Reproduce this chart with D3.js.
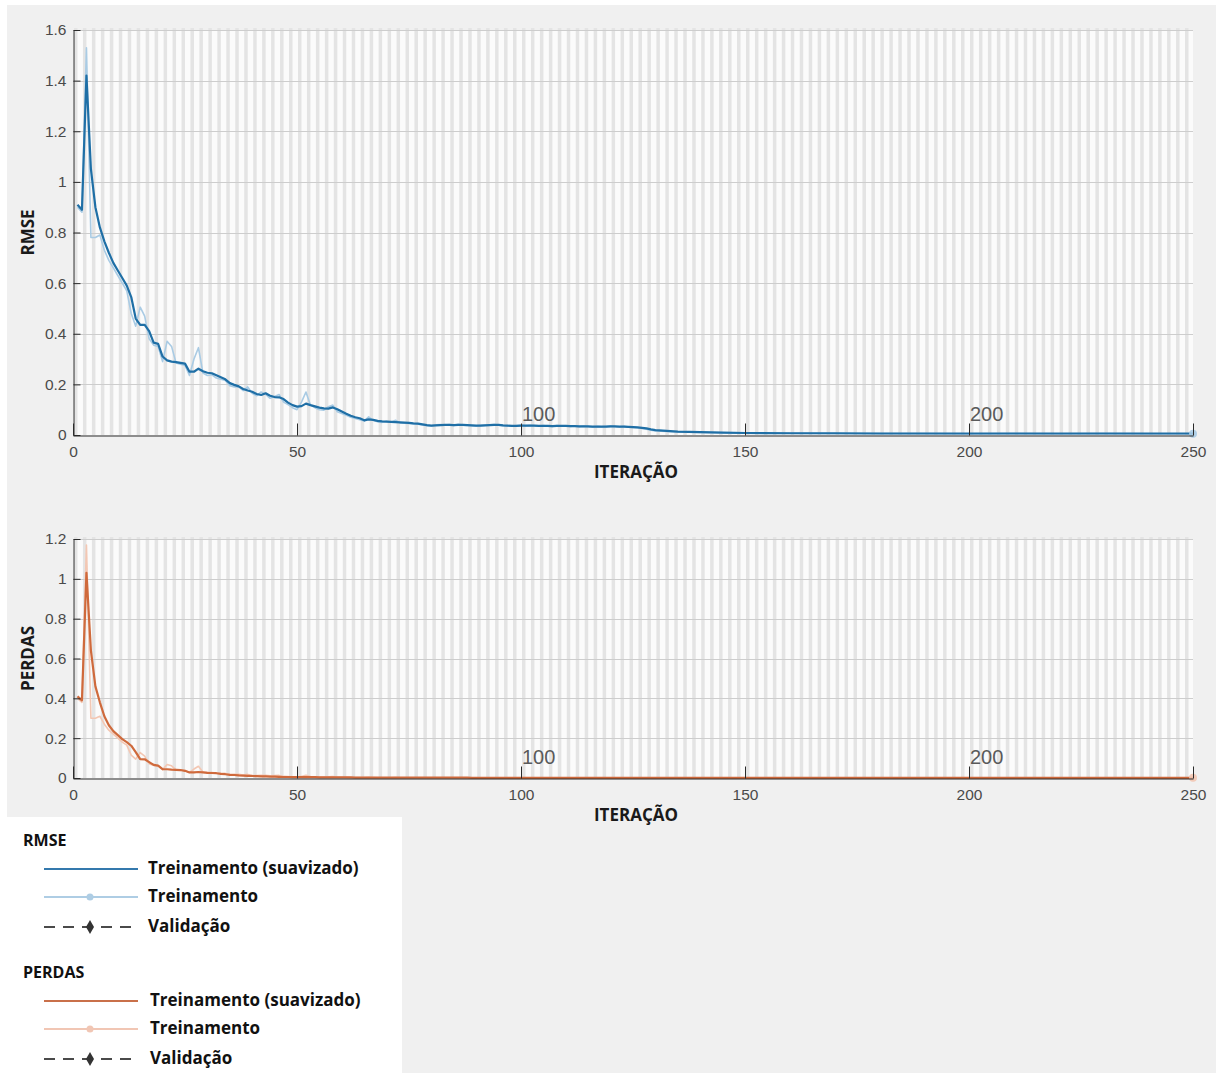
<!DOCTYPE html>
<html>
<head>
<meta charset="utf-8">
<script src="https://cdn.jsdelivr.net/npm/d3@7"></script>
<style>
  html, body { margin: 0; padding: 0; background: #ffffff; }
  svg { display: block; }
</style>
</head>
<body>
<script>
// ---- Training progress data --------------------------------------------
// Iterations 1..130 are logged one by one; afterwards the curve is flat and
// is logged at coarser steps.
const denseIterations = d3.range(1, 131);
const tailIterations = [135, 140, 145, 150, 160, 170, 180, 190, 200, 210, 220, 230, 240, 250];
const iterations = denseIterations.concat(tailIterations);

const rmseSmoothed = [
  0.91, 0.89, 1.42, 1.05, 0.90, 0.82, 0.765, 0.72, 0.68, 0.65,
  0.62, 0.59, 0.545, 0.46, 0.435, 0.435, 0.41, 0.365, 0.36, 0.31,
  0.295, 0.29, 0.288, 0.285, 0.282, 0.25, 0.25, 0.262, 0.252, 0.246,
  0.244, 0.236, 0.228, 0.22, 0.205, 0.198, 0.192, 0.182, 0.176, 0.171,
  0.162, 0.158, 0.165, 0.155, 0.150, 0.149, 0.142, 0.128, 0.118, 0.112,
  0.114, 0.124, 0.118, 0.113, 0.108, 0.105, 0.104, 0.109, 0.102, 0.093,
  0.084, 0.076, 0.070, 0.066, 0.058, 0.062, 0.060, 0.056, 0.054, 0.053,
  0.052, 0.051, 0.050, 0.049, 0.048, 0.046, 0.045, 0.042, 0.039, 0.037,
  0.038, 0.039, 0.040, 0.040, 0.039, 0.040, 0.040, 0.039, 0.038, 0.037,
  0.037, 0.038, 0.039, 0.040, 0.040, 0.038, 0.037, 0.036, 0.036, 0.037,
  0.037, 0.037, 0.037, 0.036, 0.036, 0.036, 0.035, 0.036, 0.036, 0.036,
  0.035, 0.035, 0.034, 0.034, 0.034, 0.033, 0.033, 0.033, 0.033, 0.034,
  0.034, 0.033, 0.033, 0.032, 0.031, 0.030, 0.028, 0.026, 0.022, 0.019,
  0.013, 0.011, 0.009, 0.008, 0.007, 0.007, 0.006, 0.006, 0.006, 0.006,
  0.006, 0.006, 0.006, 0.006
];

const rmseRaw = [
  0.90, 0.88, 1.53, 0.78, 0.78, 0.79, 0.73, 0.69, 0.66, 0.63,
  0.60, 0.57, 0.48, 0.43, 0.505, 0.47, 0.38, 0.355, 0.35, 0.29,
  0.37, 0.35, 0.285, 0.28, 0.275, 0.235, 0.30, 0.345, 0.245, 0.235,
  0.238, 0.225, 0.22, 0.215, 0.195, 0.19, 0.19, 0.175, 0.19, 0.165,
  0.155, 0.17, 0.16, 0.145, 0.152, 0.16, 0.13, 0.12, 0.108, 0.10,
  0.13, 0.17, 0.118, 0.108, 0.10, 0.098, 0.112, 0.118, 0.092, 0.085,
  0.078, 0.07, 0.065, 0.06, 0.055, 0.072, 0.058, 0.052, 0.05, 0.054,
  0.05, 0.058, 0.048, 0.047, 0.046, 0.044, 0.043, 0.04, 0.037, 0.036,
  0.04, 0.041, 0.039, 0.041, 0.038, 0.042, 0.039, 0.038, 0.037, 0.036,
  0.038, 0.039, 0.04, 0.041, 0.039, 0.037, 0.036, 0.035, 0.037, 0.038,
  0.036, 0.038, 0.036, 0.035, 0.037, 0.035, 0.034, 0.037, 0.035, 0.036,
  0.034, 0.036, 0.033, 0.035, 0.033, 0.032, 0.034, 0.032, 0.034, 0.035,
  0.033, 0.032, 0.034, 0.031, 0.03, 0.029, 0.026, 0.023, 0.019, 0.016,
  0.012, 0.010, 0.009, 0.008, 0.007, 0.006, 0.006, 0.006, 0.005, 0.006,
  0.005, 0.006, 0.005, 0.005
];

const lossSmoothed = [
  0.41, 0.39, 1.03, 0.64, 0.46, 0.38, 0.31, 0.265, 0.235, 0.215,
  0.195, 0.18, 0.162, 0.13, 0.095, 0.094, 0.08, 0.066, 0.062, 0.045,
  0.044, 0.042, 0.041, 0.040, 0.036, 0.028, 0.028, 0.030, 0.028, 0.026,
  0.025, 0.024, 0.021, 0.019, 0.016, 0.015, 0.013, 0.012, 0.011, 0.010,
  0.009, 0.008, 0.008, 0.007, 0.007, 0.006, 0.005, 0.005, 0.004, 0.004,
  0.004, 0.004, 0.004, 0.004, 0.003, 0.003, 0.003, 0.003, 0.003, 0.003,
  0.003, 0.003, 0.002, 0.002, 0.002, 0.002, 0.002, 0.002, 0.002, 0.002,
  0.002, 0.002, 0.002, 0.002, 0.002, 0.002, 0.002, 0.002, 0.002, 0.002,
  0.002, 0.002, 0.002, 0.002, 0.002, 0.002, 0.002, 0.002, 0.001, 0.001,
  0.001, 0.001, 0.001, 0.001, 0.001, 0.001, 0.001, 0.001, 0.001, 0.001,
  0.001, 0.001, 0.001, 0.001, 0.001, 0.001, 0.001, 0.001, 0.001, 0.001,
  0.001, 0.001, 0.001, 0.001, 0.001, 0.001, 0.001, 0.001, 0.001, 0.001,
  0.001, 0.001, 0.001, 0.001, 0.001, 0.001, 0.001, 0.001, 0.001, 0.001,
  0.001, 0.001, 0.001, 0.001, 0.001, 0.001, 0.001, 0.001, 0.001, 0.001,
  0.001, 0.001, 0.001, 0.001
];

const lossRaw = [
  0.40, 0.38, 1.17, 0.30, 0.30, 0.31, 0.27, 0.24, 0.22, 0.20,
  0.18, 0.165, 0.115, 0.095, 0.128, 0.11, 0.072, 0.063, 0.061, 0.042,
  0.068, 0.061, 0.041, 0.039, 0.038, 0.028, 0.045, 0.059, 0.030, 0.028,
  0.028, 0.025, 0.024, 0.023, 0.019, 0.018, 0.018, 0.015, 0.018, 0.014,
  0.012, 0.014, 0.013, 0.011, 0.012, 0.013, 0.008, 0.007, 0.006, 0.005,
  0.008, 0.014, 0.007, 0.006, 0.005, 0.005, 0.006, 0.007, 0.004, 0.004,
  0.003, 0.002, 0.002, 0.002, 0.002, 0.003, 0.002, 0.001, 0.001, 0.001,
  0.001, 0.002, 0.001, 0.001, 0.001, 0.001, 0.001, 0.001, 0.001, 0.001,
  0.001, 0.001, 0.001, 0.001, 0.001, 0.001, 0.001, 0.001, 0.001, 0.001,
  0.001, 0.001, 0.001, 0.001, 0.001, 0.001, 0.001, 0.001, 0.001, 0.001,
  0.001, 0.001, 0.001, 0.001, 0.001, 0.001, 0.001, 0.001, 0.001, 0.001,
  0.001, 0.001, 0.001, 0.001, 0.001, 0.001, 0.001, 0.001, 0.001, 0.001,
  0.001, 0.001, 0.001, 0.001, 0.001, 0.001, 0.001, 0.001, 0.001, 0.001,
  0.001, 0.001, 0.001, 0.001, 0.001, 0.001, 0.001, 0.001, 0.001, 0.001,
  0.001, 0.001, 0.001, 0.001
];

const xTicks = [0, 50, 100, 150, 200, 250];
const rmseTicks = [0, 0.2, 0.4, 0.6, 0.8, 1, 1.2, 1.4, 1.6];
const lossTicks = [0, 0.2, 0.4, 0.6, 0.8, 1, 1.2];
const markerIterations = [100, 200];

const legendGroups = [
  { title: "RMSE", entries: ["Treinamento (suavizado)", "Treinamento", "Validação"] },
  { title: "PERDAS", entries: ["Treinamento (suavizado)", "Treinamento", "Validação"] }
];

// ---- Drawing -----------------------------------------------------------
const W = 1216, H = 1073;
const svg = d3.select("body").append("svg").attr("width", W).attr("height", H);

// figure background and legend panel
svg.append("rect").attr("x", 7).attr("y", 5).attr("width", W - 7).attr("height", H - 5).attr("fill", "#f0f0f0");
svg.append("rect").attr("x", 0).attr("y", 817).attr("width", 402).attr("height", H - 817).attr("fill", "#ffffff");

const tickFont = "'Liberation Sans', Arial, sans-serif";
const boldFont = "'Open Sans', 'Liberation Sans', sans-serif";

const x = d3.scaleLinear().domain([0, 250]).range([73, 1193]);

function drawPanel(cfg) {
  const y = d3.scaleLinear().domain(cfg.domain).range([cfg.bottom, cfg.top]);
  const g = svg.append("g");

  // plot area
  g.append("rect").attr("x", x(0)).attr("y", cfg.top)
    .attr("width", x(250) - x(0)).attr("height", cfg.bottom - cfg.top).attr("fill", "#fbfbfb");

  // alternating shading per iteration
  const bands = d3.range(1, 251, 2);
  g.append("g").selectAll("rect").data(bands).join("rect")
    .attr("x", d => x(d - 0.78))
    .attr("y", cfg.top - 2)
    .attr("width", d => x(d) - x(d - 0.78))
    .attr("height", cfg.bottom - cfg.top + 2)
    .attr("fill", "#e4e4e4");

  // horizontal grid
  g.append("g").selectAll("line").data(cfg.ticks.filter(t => t > 0)).join("line")
    .attr("x1", x(0)).attr("x2", x(250))
    .attr("y1", d => Math.round(y(d)) + 0.5).attr("y2", d => Math.round(y(d)) + 0.5)
    .attr("stroke", "#cdcdcd").attr("stroke-width", 1);

  // series
  const line = d3.line().x((d, i) => x(iterations[i])).y(d => y(d));
  g.append("path").datum(cfg.raw).attr("d", line)
    .attr("fill", "none").attr("stroke", cfg.light).attr("stroke-width", 1.6)
    .attr("stroke-linejoin", "round");
  g.append("path").datum(cfg.smooth).attr("d", line)
    .attr("fill", "none").attr("stroke", cfg.dark).attr("stroke-width", 2.2)
    .attr("stroke-linejoin", "round");
  // final raw point marker
  const last = cfg.raw.length - 1;
  g.append("circle").attr("cx", x(iterations[last])).attr("cy", y(cfg.raw[last]))
    .attr("r", 4).attr("fill", cfg.light).attr("opacity", 0.9);

  // axes: ticks point inward
  const yAxis = d3.axisLeft(y).tickValues(cfg.ticks).tickSizeInner(-7).tickSizeOuter(0)
    .tickPadding(7).tickFormat(d3.format("~g"));
  const ya = g.append("g").attr("transform", `translate(${x(0) + 0.5},0)`).call(yAxis);
  ya.select(".domain").attr("stroke", "#2b2b2b");
  ya.selectAll(".tick line").attr("stroke", "#2b2b2b");
  ya.selectAll(".tick text").attr("font-family", tickFont).attr("font-size", 15.5).attr("fill", "#4a4a4a");

  const xAxis = d3.axisBottom(x).tickValues(xTicks).tickSizeInner(-12).tickSizeOuter(0)
    .tickPadding(10).tickFormat(d3.format("d"));
  const xa = g.append("g").attr("transform", `translate(0,${cfg.bottom + 0.5})`).call(xAxis);
  xa.select(".domain").attr("stroke", "#2b2b2b");
  xa.selectAll(".tick line").attr("stroke", "#2b2b2b");
  xa.selectAll(".tick text").attr("font-family", tickFont).attr("font-size", 15.5).attr("fill", "#4a4a4a");

  // iteration markers inside the plot
  g.append("g").selectAll("text").data(markerIterations).join("text")
    .attr("x", d => x(d) + 1).attr("y", cfg.bottom - 14)
    .attr("font-family", tickFont).attr("font-size", 20).attr("fill", "#5a5a5a")
    .text(d => d);

  // axis titles
  g.append("text").attr("x", 636).attr("y", cfg.bottom + 43)
    .attr("text-anchor", "middle").attr("font-family", boldFont).attr("font-weight", 700)
    .attr("font-size", 17).attr("fill", "#1a1a1a").text("ITERAÇÃO");
  g.append("text")
    .attr("transform", `translate(34,${(cfg.top + cfg.bottom) / 2}) rotate(-90)`)
    .attr("text-anchor", "middle").attr("font-family", boldFont).attr("font-weight", 700)
    .attr("font-size", 17).attr("fill", "#1a1a1a").text(cfg.label);
}

drawPanel({ domain: [0, 1.6], top: 30, bottom: 435, ticks: rmseTicks, raw: rmseRaw, smooth: rmseSmoothed,
  light: "#a9cbe4", dark: "#1f6fa6", label: "RMSE" });
drawPanel({ domain: [0, 1.2], top: 539, bottom: 778, ticks: lossTicks, raw: lossRaw, smooth: lossSmoothed,
  light: "#f3c7b3", dark: "#cf6a3c", label: "PERDAS" });

// ---- Legend ------------------------------------------------------------
const legendStyles = [
  { dark: "#3479ad", light: "#aecde4", textX: 148 },
  { dark: "#c9704a", light: "#f1c6b4", textX: 150 }
];
const groupTop = [846, 978];
const rowOffsets = [28, 56, 86];

legendGroups.forEach((grp, gi) => {
  const st = legendStyles[gi];
  const base = groupTop[gi];
  svg.append("text").attr("x", 23).attr("y", base)
    .attr("font-family", boldFont).attr("font-weight", 700).attr("font-size", 16)
    .attr("fill", "#111").text(grp.title);
  grp.entries.forEach((label, ri) => {
    const ly = base + rowOffsets[ri];
    const lineY = ly - 5;
    if (ri === 0) {
      svg.append("line").attr("x1", 44).attr("x2", 138).attr("y1", lineY).attr("y2", lineY)
        .attr("stroke", st.dark).attr("stroke-width", 2);
    } else if (ri === 1) {
      svg.append("line").attr("x1", 44).attr("x2", 138).attr("y1", lineY).attr("y2", lineY)
        .attr("stroke", st.light).attr("stroke-width", 2);
      svg.append("circle").attr("cx", 90).attr("cy", lineY).attr("r", 3.5).attr("fill", st.light);
    } else {
      svg.append("line").attr("x1", 44).attr("x2", 138).attr("y1", lineY).attr("y2", lineY)
        .attr("stroke", "#4a4a4a").attr("stroke-width", 2).attr("stroke-dasharray", "11,8");
      svg.append("path")
        .attr("d", d3.symbol().type(d3.symbolDiamond).size(55)())
        .attr("transform", `translate(90,${lineY})`).attr("fill", "#333");
    }
    svg.append("text").attr("x", st.textX).attr("y", ly)
      .attr("font-family", boldFont).attr("font-weight", 700).attr("font-size", 17)
      .attr("fill", "#111").text(label);
  });
});
</script>
</body>
</html>
